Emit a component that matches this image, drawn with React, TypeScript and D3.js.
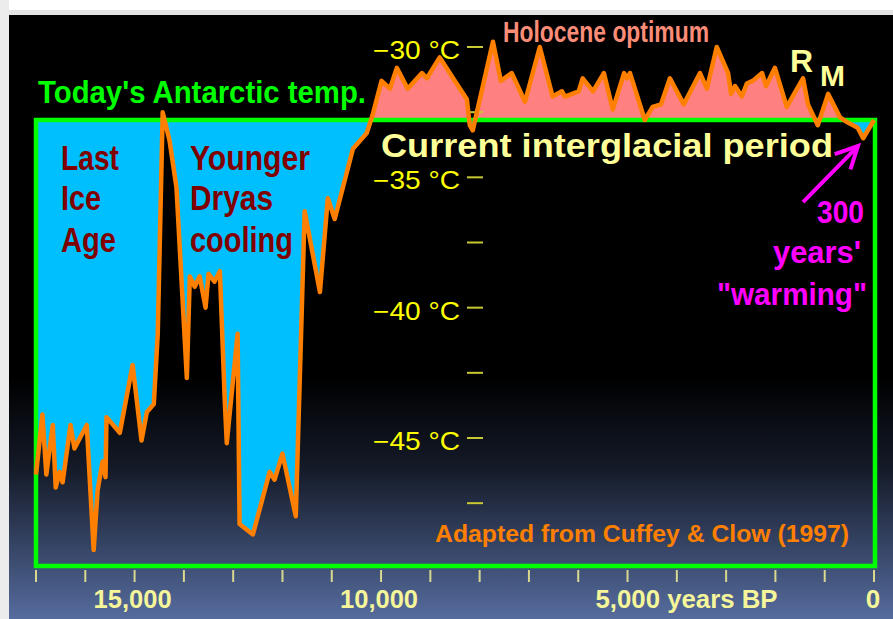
import React from 'react';
import * as d3 from 'd3';

// Years before present and Antarctic temperature (°C)
const years = [17000, 16870, 16790, 16660, 16600, 16520, 16460, 16300, 16220, 15970, 15830, 15750, 15650, 15590, 15570, 15300, 15040, 14860, 14750, 14610, 14530, 14430, 14290, 14150, 13940, 13880, 13780, 13680, 13560, 13500, 13380, 13270, 13170, 13130, 12910, 12870, 12600, 12260, 12160, 12000, 11730, 11550, 11240, 11080, 10940, 10570, 10290, 10170, 9990, 9820, 9680, 9460, 9170, 9070, 8810, 8400, 8260, 8200, 8140, 7730, 7570, 7350, 7080, 6780, 6520, 6330, 6270, 5990, 5910, 5700, 5480, 5300, 5070, 5010, 4950, 4650, 4490, 4320, 4140, 3860, 3530, 3390, 3190, 2960, 2900, 2820, 2680, 2580, 2460, 2270, 2190, 2010, 1770, 1440, 1340, 1140, 930, 690, 530, 330, 220, 0];
const temps = [-46.4, -44.1, -46.4, -44.5, -46.9, -46.3, -46.7, -44.5, -45.4, -44.5, -49.3, -47.0, -45.9, -46.5, -44.2, -44.8, -42.2, -45.1, -44.0, -43.7, -41.0, -32.5, -33.6, -35.4, -42.7, -38.8, -39.2, -38.8, -40.0, -38.7, -39.0, -38.6, -43.6, -45.2, -41.0, -48.3, -48.7, -46.3, -46.6, -45.6, -48.0, -36.3, -39.4, -35.8, -36.6, -33.9, -33.3, -32.6, -31.3, -31.6, -30.8, -31.6, -31.0, -31.2, -30.4, -31.6, -32.0, -33.0, -33.2, -29.8, -31.3, -31.0, -32.1, -30.0, -31.9, -31.7, -31.9, -31.7, -31.2, -31.7, -31.0, -32.4, -31.0, -31.2, -31.0, -32.8, -32.3, -32.2, -31.2, -32.2, -31.0, -31.6, -30.0, -31.0, -31.8, -31.5, -31.9, -31.4, -31.3, -31.0, -31.5, -30.8, -32.3, -31.2, -32.2, -33.0, -31.8, -32.7, -32.9, -33.1, -33.5, -32.8];

const TODAY = -32.8; // today's Antarctic temperature (baseline)

const yMajor = [-30, -35, -40, -45];
const yMajorLabels = ['−30 °C', '−35 °C', '−40 °C', '−45 °C'];
const yMinor = [-32.5, -37.5, -42.5, -47.5];

const xTicks = [17000, 16000, 15000, 14000, 13000, 12000, 11000, 10000, 9000, 8000, 7000, 6000, 5000, 4000, 3000, 2000, 1000, 0];
const xLabelValues = [15000, 10000, 5000, 0];
const xLabelTexts = ['15,000', '10,000', '5,000 years BP', '0'];

// arrow annotation (data coords)
const arrowFrom = { yr: 1440, t: -35.95 };
const arrowTo = { yr: 325, t: -33.8 };

const NARROW = "'Liberation Sans Narrow','Arial Narrow','Liberation Sans',Arial,sans-serif";

export default function App() {
  const W = 893, H = 619;
  const x = d3.scaleLinear().domain([17000, 0]).range([36, 874]);
  const y = d3.scaleLinear().domain([-30, -45]).range([47, 438]);
  const data = years.map((yr, i) => ({ yr, t: temps[i] }));
  const base = y(TODAY);
  const plotBottom = 566;
  const plotRight = 875;

  const area = d3.area<{ yr: number; t: number }>()
    .x(d => x(d.yr)).y0(base).y1(d => y(d.t));
  const line = d3.line<{ yr: number; t: number }>()
    .x(d => x(d.yr)).y(d => y(d.t));

  const ax0 = x(arrowFrom.yr), ay0 = y(arrowFrom.t);
  const ax1 = x(arrowTo.yr), ay1 = y(arrowTo.t);
  const dx = ax1 - ax0, dy = ay1 - ay0, len = Math.hypot(dx, dy);
  const ux = dx / len, uy = dy / len;
  const hl = 22, hw = 11;
  const bx = ax1 - ux * hl, by = ay1 - uy * hl;
  const w1 = [bx + -uy * hw, by + ux * hw];
  const w2 = [bx - -uy * hw, by - ux * hw];

  const txt = (s: string, tx: number, ty: number, size: number, fill: string, tl?: number, anchor = 'start', weight = 'bold') => (
    <text x={tx} y={ty} fontSize={size} fill={fill} fontFamily={NARROW} fontWeight={weight}
      textAnchor={anchor} textLength={tl} lengthAdjust={tl ? 'spacingAndGlyphs' : undefined}>{s}</text>
  );

  return (
    <svg width={W} height={H} style={{ position: 'absolute', left: 0, top: 0 }}>
      <defs>
        <linearGradient id="bg" x1="0" y1="0" x2="0" y2="1">
          <stop offset="0" stopColor="#000" />
          <stop offset="0.6" stopColor="#000" />
          <stop offset="0.75" stopColor="#141a28" />
          <stop offset="1" stopColor="#566c9e" />
        </linearGradient>
        <clipPath id="above"><rect x={0} y={0} width={W} height={base} /></clipPath>
        <clipPath id="below"><rect x={0} y={base} width={W} height={H - base} /></clipPath>
      </defs>
      <rect x={0} y={0} width={W} height={H} fill="#fff" />
      <rect x={0} y={10} width={W} height={5} fill="#e4e4e4" />
      <rect x={0} y={0} width={9} height={H} fill="#ececec" />
      <rect x={9} y={15} width={W - 9} height={H - 15} fill="url(#bg)" />

      <path d={area(data) || ''} fill="#ff8080" clipPath="url(#above)" />
      <path d={area(data) || ''} fill="#00bfff" clipPath="url(#below)" />

      {yMajor.map((v, i) => (
        <g key={'ym' + i}>
          <line x1={467} x2={483} y1={y(v)} y2={y(v)} stroke="#c8c832" strokeWidth={2} />
          {txt(yMajorLabels[i], 460, y(v) + 12, 25, '#ffff00', 87, 'end', 'normal')}
        </g>
      ))}
      {yMinor.map((v, i) => (
        <line key={'yn' + i} x1={467} x2={483} y1={y(v)} y2={y(v)} stroke="#c8c832" strokeWidth={2} />
      ))}

      {xTicks.map((v, i) => (
        <line key={'xt' + i} x1={x(v)} x2={x(v)} y1={570} y2={582} stroke="#d8d890" strokeWidth={2} />
      ))}
      {xLabelValues.map((v, i) => (
        i === 2
          ? <g key={'xl' + i}>{txt(xLabelTexts[i], x(v) - 32, 608, 26, '#f5f59a', 182, 'start')}</g>
          : <g key={'xl' + i}>{txt(xLabelTexts[i], x(v) - (i === 3 ? 1 : 2), 608, 26, '#f5f59a', i === 3 ? undefined : 78, 'middle')}</g>
      ))}

      <rect x={36} y={base} width={plotRight - 36} height={plotBottom - base} fill="none" stroke="#00ff00" strokeWidth={4.5} />

      <path d={line(data) || ''} fill="none" stroke="#ff8000" strokeWidth={4.5} strokeLinejoin="round" />

      {txt("Today's Antarctic temp.", 38, 103, 32, '#00ff00', 328)}
      {txt('Holocene optimum', 503, 42, 30, '#fa8c78', 206)}
      {txt('R', 790, 72, 32, '#ffff99')}
      {txt('M', 820, 86, 30, '#ffff99')}
      {txt('Current interglacial period', 381, 157, 34, '#ffff99', 452)}

      {txt('Last', 61, 170, 35, '#800000', 58)}
      {txt('Ice', 61, 210, 35, '#800000', 40)}
      {txt('Age', 61, 252, 35, '#800000', 55)}
      {txt('Younger', 190, 170, 35, '#800000', 120)}
      {txt('Dryas', 190, 210, 35, '#800000', 83)}
      {txt('cooling', 190, 252, 35, '#800000', 103)}

      {txt('300', 864, 223, 32, '#ff00ff', 47, 'end')}
      {txt("years'", 861, 263, 32, '#ff00ff', 88, 'end')}
      {txt('"warming"', 867, 305, 32, '#ff00ff', 150, 'end')}

      <line x1={ax0} y1={ay0} x2={ax1} y2={ay1} stroke="#ff00ff" strokeWidth={4} />
      <polyline points={`${w1[0]},${w1[1]} ${ax1},${ay1} ${w2[0]},${w2[1]}`} fill="none" stroke="#ff00ff" strokeWidth={4} />

      {txt('Adapted from Cuffey & Clow (1997)', 435, 542, 24, '#ff8000', 414)}
    </svg>
  );
}
